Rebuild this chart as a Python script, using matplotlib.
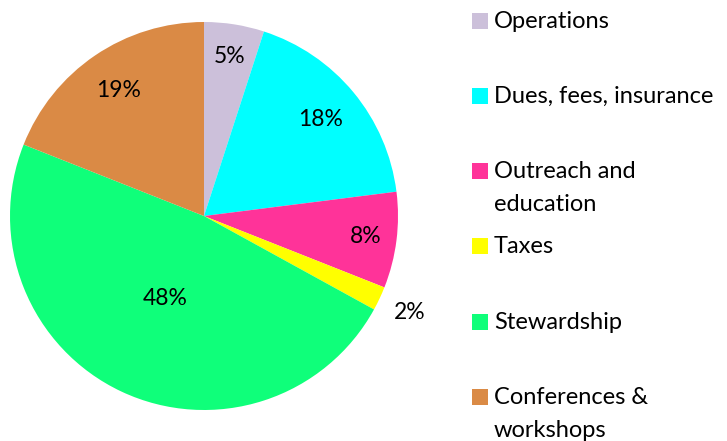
import matplotlib.pyplot as plt
from matplotlib.patches import Rectangle
import numpy as np

labels = ['Operations', 'Dues, fees, insurance', 'Outreach and\neducation',
          'Taxes', 'Stewardship', 'Conferences &\nworkshops']
shares = [5, 18, 8, 2, 48, 19]
colors = ['#CCC0DA', '#00FFFF', '#FF3399', '#FFFF00', '#0FFF7A', '#DA8A45']

# where each percent label sits, as a fraction of the radius
label_r = [0.83, 0.78, 0.84, 1.17, 0.47, 0.78]

plt.rcParams['font.family'] = ['Lato', 'DejaVu Sans']

fig = plt.figure(figsize=(7.27, 4.41), dpi=100)
ax = fig.add_axes([10 / 727, 31 / 441, 388 / 727, 388 / 441])

wedges, _ = ax.pie(shares, colors=colors, startangle=90, counterclock=False,
                   radius=1.0, wedgeprops=dict(linewidth=0))
ax.set_xlim(-1, 1)
ax.set_ylim(-1, 1)
ax.set_aspect('equal')

for w, val, r in zip(wedges, shares, label_r):
    mid = np.deg2rad((w.theta1 + w.theta2) / 2)
    ax.text(r * np.cos(mid), r * np.sin(mid), f'{val}%', ha='center',
            va='center', fontsize=16.5, color='black')

# legend drawn by hand to match spacing of the original
y_rows = [21, 96, 171, 246, 322, 397]
for lab, col, y in zip(labels, colors, y_rows):
    fig.patches.append(Rectangle((472 / 727, 1 - (y + 8) / 441), 16 / 727, 16 / 441,
                                 transform=fig.transFigure, color=col, linewidth=0))
    fig.text(494 / 727, 1 - (y - 10) / 441, lab, ha='left', va='top',
             fontsize=17, linespacing=1.72)

fig.savefig('out.png', dpi=100)
